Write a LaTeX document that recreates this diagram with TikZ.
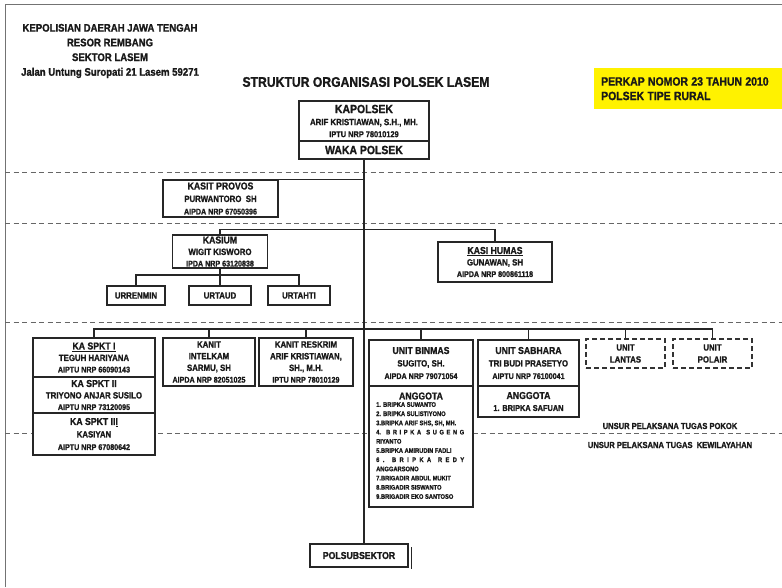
\documentclass[tikz,border=0pt]{standalone}
\usepackage{fontspec}
\setmainfont{Liberation Sans}[FakeStretch=0.87, BoldFeatures={FakeBold=1.2}]
\usetikzlibrary{calc}
\newcommand\stk[2]{\vbox{\baselineskip=#1pt\lineskiplimit=-\maxdimen\lineskip=0pt\halign{\hfil##\hfil\cr#2\crcr}}}
\newcommand\stkl[2]{\vbox{\baselineskip=#1pt\lineskiplimit=-\maxdimen\lineskip=0pt\halign{##\hfil\cr#2\crcr}}}
\newcommand\fH{\fontsize{12}{14}\selectfont}
\newcommand\fT{\fontsize{10}{12}\selectfont}
\newcommand\fN{\fontsize{9}{11}\selectfont}
\newcommand\fR{\fontsize{8.2}{9}\selectfont}
\newcommand\fL{\fontsize{6.6}{8}\selectfont}
\begin{document}
\begin{tikzpicture}[x=1pt,y=-1pt,
  box/.style={draw=black!85, line width=1.2pt, fill=white, inner sep=0pt, align=center, font=\bfseries, text=black!90},
  dbox/.style={box, dash pattern=on 5pt off 3pt, draw=black!80},
  conn/.style={draw=black!85, line width=1.4pt},
  sepline/.style={draw=black!60, line width=0.9pt, dash pattern=on 5pt off 3.5pt},
  txt/.style={inner sep=0pt, font=\bfseries, text=black!90, align=center}]

\useasboundingbox (0,0) rectangle (782,587);
\fill[white] (0,0) rectangle (782,587);
\draw[black!55, line width=0.8pt] (5,587) -- (5,4) -- (782,4);

% separators
\foreach \yy in {172,223,322,433} \draw[sepline] (5,\yy) -- (782,\yy);

% header
\node[txt] (hdr) at (110,51) {\stk{14.7}{\fontsize{11}{11}\selectfont KEPOLISIAN DAERAH JAWA TENGAH\cr
 \fontsize{11}{11}\selectfont RESOR REMBANG\cr
 \fontsize{11}{11}\selectfont SEKTOR LASEM\cr
 \fontsize{11}{11}\selectfont Jalan Untung Suropati 21 Lasem 59271}};
\node[txt] (title) at (366,82) {\fontsize{14}{14}\selectfont STRUKTUR ORGANISASI POLSEK LASEM};
\node[fill=yellow, anchor=north west, minimum width=188, minimum height=41, inner sep=0pt,
      text width=174, align=left, font=\bfseries, text=black!90] (perkap) at (594,68)
  {\stkl{14.5}{\fontsize{12}{12}\selectfont PERKAP NOMOR 23 TAHUN 2010\cr \fontsize{12}{12}\selectfont POLSEK TIPE RURAL}};

% top
\node[box, minimum width=130, minimum height=40] (kapolsek) at (364,121)
  {\stk{12}{\fH KAPOLSEK\cr \fontsize{9}{9}\selectfont ARIF KRISTIAWAN, S.H., MH.\cr \fontsize{8.5}{9}\selectfont IPTU NRP 78010129}};
\node[box, minimum width=130, minimum height=18] (waka) at (364,150) {\fH WAKA POLSEK};
\node[box, minimum width=98, minimum height=23] (polsub) at (359,555.5) {\fT POLSUBSEKTOR};
\draw[black!85, line width=1pt] ($(polsub.north east)+(3,4)$) -- ($(polsub.south east)+(3,1)$);
\draw[conn] (waka.south) -- (waka.south |- polsub.north);

% provos
\node[box, minimum width=115, minimum height=37] (provos) at (220.5,198.5)
  {\stk{12.5}{\fT KASIT PROVOS\cr \fN PURWANTORO\ \ SH\cr \fR AIPDA NRP 67050396}};
\draw[conn] (provos.north east) -- (provos.north east -| waka.south);

% kasium / humas
\node[box, minimum width=95, minimum height=33] (kasium) at (220,251.5)
  {\stk{11.5}{\fT KASIUM\cr \fN WIGIT KISWORO\cr \fR IPDA NRP 63120838}};
\node[box, minimum width=114, minimum height=40] (humas) at (495,262)
  {\stk{11.5}{\fT \underline{KASI HUMAS}\cr \fN GUNAWAN, SH\cr \fR AIPDA NRP 800861118}};
\draw[conn] (kasium.north) -- ++(0,-5) -| (humas.north);

\node[box, minimum width=58, minimum height=19] (urrenmin) at (136,295.5) {\fN URRENMIN};
\node[box, minimum width=62, minimum height=19] (urtaud) at (220,295.5) {\fN URTAUD};
\node[box, minimum width=62, minimum height=19] (urtahti) at (299,295.5) {\fN URTAHTI};
\coordinate (ubus) at (0,275);
\draw[conn] (kasium.south) -- (urtaud.north);
\draw[conn] (urrenmin.north) |- (urtahti.north |- ubus) -- (urtahti.north);

% bottom row
\node[box, minimum width=122, minimum height=39] (spkt1) at (94,357.5)
  {\stk{11.5}{\fT \underline{KA SPKT I}\cr \fN TEGUH HARIYANA\cr \fR AIPTU NRP 66090143}};
\node[box, minimum width=122, minimum height=36] (spkt2) at (94,395)
  {\stk{11.5}{\fT KA SPKT II\cr \fN TRIYONO ANJAR SUSILO\cr \fR AIPTU NRP 73120095}};
\node[box, minimum width=122, minimum height=42] (spkt3) at (94,434)
  {\stk{12.5}{\fT KA SPKT II\underline{I}\cr \fN KASIYAN\cr \fR AIPTU NRP 67080642}};

\node[box, minimum width=92, minimum height=48] (intelkam) at (209,362)
  {\stk{11.7}{\fN KANIT\cr \fN INTELKAM\cr \fN SARMU, SH\cr \fR AIPDA NRP 82051025}};
\node[box, minimum width=94, minimum height=48] (reskrim) at (306,362)
  {\stk{11.7}{\fN KANIT RESKRIM\cr \fN ARIF KRISTIAWAN,\cr \fN SH., M.H.\cr \fR IPTU NRP 78010129}};

\node[box, minimum width=104, minimum height=46] (binmas) at (421,363)
  {\stk{12.5}{\fT UNIT BINMAS\cr \fN SUGITO, SH.\cr \fR AIPDA NRP 79071054}};
\node[box, minimum width=104, minimum height=121] (binmasang) at (421,446.5) {};
\node[txt] (angg1) at (421,396) {\fT ANGGOTA};
\node[txt, anchor=north west, align=left] (list1) at (376,402)
  {\stkl{9.2}{\fL 1. BRIPKA SUWANTO\cr
   \fL 2. BRIPKA SULISTIYONO\cr
   \fL 3.BRIPKA ARIF SHS, SH, MH.\cr
   \fL \makebox[88pt][s]{4. B R I P K A \ S U G E N G}\cr
   \fL RIYANTO\cr
   \fL 5.BRIPKA AMIRUDIN FADLI\cr
   \fL \makebox[88pt][s]{6 . B R I P K A \ R E D Y}\cr
   \fL ANGGARSONO\cr
   \fL 7.BRIGADIR ABDUL MUKIT\cr
   \fL 8.BRIGADIR SISWANTO\cr
   \fL 9.BRIGADIR EKO SANTOSO}};

\node[box, minimum width=101, minimum height=46] (sabhara) at (528.5,363)
  {\stk{12.5}{\fT UNIT SABHARA\cr \fN TRI BUDI PRASETYO\cr \fR AIPTU NRP 76100041}};
\node[box, minimum width=101, minimum height=31] (sabang) at (528.5,401.5)
  {\stk{12}{\fT ANGGOTA\cr \fontsize{8.5}{9}\selectfont 1. BRIPKA SAFUAN}};

\node[dbox, minimum width=79, minimum height=29] (lantas) at (625.5,353.5)
  {\stk{12}{\fN UNIT\cr \fN LANTAS}};
\node[dbox, minimum width=79, minimum height=29] (polair) at (712.5,353.5)
  {\stk{12}{\fN UNIT\cr \fN POLAIR}};

\coordinate (bbus) at (0,329);
\draw[conn] (spkt1.north) |- (polair.north |- bbus) -- (polair.north);
\foreach \n in {intelkam,reskrim,binmas,sabhara,lantas}
  \draw[conn] (\n.north) -- (\n.north |- bbus);

\node[txt] (pokok) at (670,426) {\fontsize{8.7}{9}\selectfont UNSUR PELAKSANA TUGAS POKOK};
\node[txt] (wil) at (670,445) {\fontsize{8.7}{9}\selectfont UNSUR PELAKSANA TUGAS\ \ KEWILAYAHAN};
\end{tikzpicture}
\end{document}
